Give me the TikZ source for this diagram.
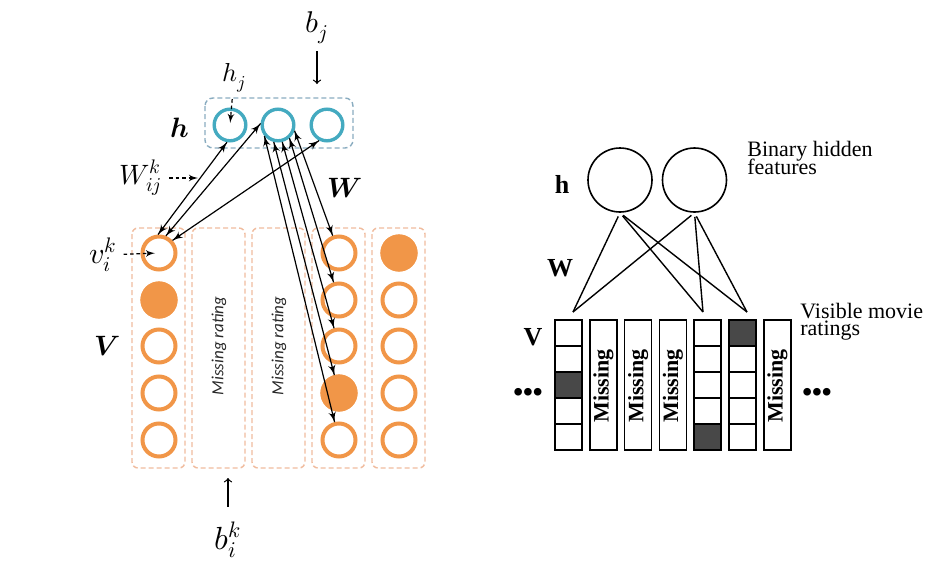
\documentclass[tikz,border=0pt]{standalone}
\usepackage{amsmath}
\usepackage{fontspec}
\usepackage{unicode-math}
\setmathfont{Latin Modern Math}
\newfontfamily\calibrifont{Carlito}
\newfontfamily\timesfont{Liberation Serif}
\usetikzlibrary{arrows}
\usetikzlibrary{decorations.markings}
\definecolor{morange}{RGB}{241, 150, 72}
\definecolor{mpeach}{RGB}{240, 188, 158}
\definecolor{mteal}{RGB}{68, 170, 192}
\definecolor{mhazy}{RGB}{138, 172, 192}
\definecolor{mdark}{RGB}{72, 72, 72}
\definecolor{mink}{RGB}{40, 40, 40}
\tikzset{<->/.style = {decoration={markings,
                                   mark=at position 0 with {\arrowreversed[scale=1.1]{latex'}},
                                   mark=at position 1 with {\arrow[scale=1.1]{latex'}}},
                       postaction={decorate}}}
\tikzset{vis/.style = {circle, draw=morange, line width=2pt, minimum size=16.5pt, inner sep=0pt}}
\tikzset{hid/.style = {circle, draw=mteal, line width=1.7pt, minimum size=15.8pt, inner sep=0pt}}
\tikzset{colbox/.style = {draw=mpeach, line width=0.7pt, dash pattern=on 2.5pt off 1.5pt, rounded corners=3pt}}
\tikzset{hbox/.style = {draw=mhazy, line width=0.7pt, dash pattern=on 2.5pt off 1.5pt, rounded corners=4pt}}
\tikzset{wlink/.style = {line width=0.6pt, <->}}
\tikzset{dlink/.style = {line width=0.6pt, dash pattern=on 1.8pt off 1.4pt, -latex'}}
\tikzset{misslabel/.style = {rotate=90, text=mink, font=\calibrifont\itshape\fontsize{8.5}{10}\selectfont}}
\tikzset{runit/.style = {circle, draw, line width=0.8pt, minimum size=32pt, inner sep=0pt}}
\tikzset{rlink/.style = {line width=0.7pt}}
\tikzset{cell/.style = {draw, line width=0.8pt}}
\tikzset{rlabel/.style = {font=\timesfont\bfseries\fontsize{13}{15}\selectfont}}
\tikzset{rtext/.style = {font=\timesfont\fontsize{11}{8.5}\selectfont,
                         align=left, anchor=west, inner sep=0pt}}

\begin{document}
\begin{tikzpicture}[x=0.5pt, y=-0.5pt]
    \useasboundingbox (0, 0) rectangle (950, 574);

    % left: visible units
    \foreach \x in {132, 192, 252, 312, 372}
      \draw [colbox] (\x, 228) rectangle ++(53, 240);
    \foreach \c/\x in {1/159, 4/339, 5/399}
      \foreach \r/\y in {1/253, 2/300, 3/346, 4/393, 5/440}
        \node [vis] (v\c\r) at (\x, \y) {};
    \foreach \n in {v12, v44, v51}
      \fill [morange] (\n) circle (9.3pt);
    \node [misslabel] (miss2) at (219, 346) {Missing rating};
    \node [misslabel] (miss3) at (279, 346) {Missing rating};

    % left: hidden units
    \draw [hbox] (205, 98) rectangle (353, 148);
    \node [hid] (h1) at (230, 125) {};
    \node [hid] (h2) at (278, 125) {};
    \node [hid] (h3) at (327, 125) {};

    \draw [wlink] (v11.93) -- (h1.-100);
    \draw [wlink] (v11.68) -- (h2.175);
    \draw [wlink] (v11.43) -- (h3.-117);
    \draw [wlink] (h2.-19) -- (v41);
    \draw [wlink] (h2.-49) -- (v42);
    \draw [wlink] (h2.-76) -- (v43);
    \draw [wlink] (h2.-104) -- (v44);
    \draw [wlink] (h2.-141) -- (v45);

    \node [font=\fontsize{14}{16}\selectfont] (hbold) at (180, 128) {$\symbfit{h}$};
    \node [font=\fontsize{14}{16}\selectfont] (Wbold) at (345, 188) {$\symbfit{W}$};
    \node [font=\fontsize{14}{16}\selectfont] (Vbold) at (107, 346) {$\symbfit{V}$};

    \node [font=\fontsize{15}{17}\selectfont] (bj) at (317, 28) {$b_j$};
    \coordinate (bjtip) at (317, 84);
    \draw [->, line width=0.6pt] (bj) -- (bjtip);

    \node [font=\fontsize{13}{15}\selectfont] (hj) at (234, 78) {$h_j$};
    \draw [dlink, shorten >=1pt] (hj) -- (h1.center);

    \node [font=\fontsize{14}{16}\selectfont] (wijk) at (141, 178) {$W_{ij}^k$};
    \coordinate (wtip) at (198, 178);
    \draw [dlink] (wijk) -- (wtip);

    \node [font=\fontsize{15}{17}\selectfont] (vik) at (103, 255) {$v_i^k$};
    \draw [dlink, shorten >=2pt] (vik) -- (v11.center);

    \node [font=\fontsize{16}{18}\selectfont] (bik) at (228, 540) {$b_i^k$};
    \coordinate (biktip) at (228, 478);
    \draw [->, line width=0.6pt, shorten <=4pt] (bik) -- (biktip);

    % right: hidden features
    \node [runit] (hA) at (620, 180) {};
    \node [runit] (hB) at (694.5, 180) {};
    \coordinate (va) at (573, 312);
    \coordinate (vb) at (703, 312);
    \coordinate (vc) at (747, 312);
    \foreach \h in {hA, hB}
      \foreach \v in {va, vb, vc}
        \draw [rlink, shorten <=2pt] (\h.south) -- (\v);

    % right: rating columns
    \foreach \x/\d in {555/3, 694.2/5, 729/1} {
      \fill [mdark] (\x, {320+26*(\d-1)}) rectangle ++(27, 26);
      \foreach \r in {1,...,5}
        \draw [cell] (\x, {320+26*(\r-1)}) rectangle ++(27, 26);
    }
    \foreach \x/\n in {589.8/2, 624.6/3, 659.4/4, 763.8/7} {
      \draw [cell] (\x, 320) rectangle ++(27, 130);
      \node [rotate=90, font=\timesfont\bfseries\fontsize{11}{13}\selectfont] (miss\n) at (\x+13.5, 386) {Missing};
    }

    \node [rlabel] (rh) at (562, 184) {h};
    \node [rlabel] (rW) at (560, 268) {W};
    \node [rlabel] (rV) at (533, 337) {V};
    \node [rtext] (binary) at (747, 158) {Binary hidden\\[-2.4pt]features};
    \node [rtext] (visible) at (800, 322) {Visible movie\\ratings};
    \node [font=\timesfont\bfseries\fontsize{14}{16}\selectfont] (dotsl) at (528, 395) {\textbullet\textbullet\textbullet};
    \node [font=\timesfont\bfseries\fontsize{14}{16}\selectfont] (dotsr) at (817, 395) {\textbullet\textbullet\textbullet};
\end{tikzpicture}
\end{document}
